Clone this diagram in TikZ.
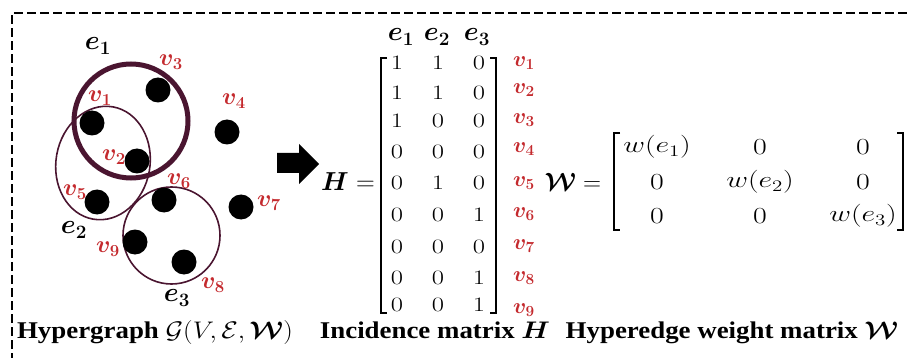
\RequirePackage{fix-cm}
\documentclass[tikz,border=0pt]{standalone}
\usepackage{amsmath,bm}
\usepackage{fontspec}
\setmainfont{Liberation Serif}
\definecolor{maroon}{HTML}{4A1530}
\definecolor{vred}{HTML}{C42A2E}
\newcommand{\capbox}[1]{\scalebox{1.12}[1]{#1}}
\newcommand{\wbox}[1]{\scalebox{1.3}[1]{#1}}
\begin{document}
\begin{tikzpicture}[x=1pt,y=-1pt,
  dot/.style={circle,fill=black,minimum size=25pt,inner sep=0pt},
  vlab/.style={text=vred,inner sep=0pt,font=\fontsize{24}{24}\selectfont},
  hvlab/.style={text=vred,inner sep=0pt,font=\fontsize{22}{22}\selectfont},
  elab/.style={text=black,inner sep=0pt,font=\fontsize{27}{27}\selectfont},
  hent/.style={inner sep=0pt,font=\fontsize{20.5}{20.5}\selectfont},
  went/.style={inner sep=0pt,font=\fontsize{23}{23}\selectfont},
  captxt/.style={inner sep=0pt,anchor=base,font=\fontsize{24}{24}\selectfont\bfseries},
  brk/.style={line width=1.4pt},
  hedge/.style={draw=maroon,line width=1.6pt}]
\useasboundingbox (0,0) rectangle (907,358);
% dashed border
\draw[line width=2.6pt,dash pattern=on 9pt off 4pt] (12,362) -- (12,13) -- (912,13);

% hyperedges
\draw[hedge,line width=5pt] (131,121) circle (57);
\draw[hedge] (103,163) ellipse[x radius=47,y radius=57,rotate=-10];
\draw[hedge] (171.5,235.5) circle (48.5);

% vertices
\node[dot] (d1) at (92,123) {};
\node[dot] (d2) at (137,161) {};
\node[dot] (d3) at (158,90) {};
\node[dot] (d4) at (227,132) {};
\node[dot] (d5) at (97,202) {};
\node[dot] (d6) at (164,200) {};
\node[dot] (d7) at (241,207) {};
\node[dot] (d8) at (184,262) {};
\node[dot] (d9) at (135,242) {};

\node[vlab] (l1) at (100,98) {$\bm{v}_{\bm 1}$};
\node[vlab] (l2) at (114,157) {$\bm{v}_{\bm 2}$};
\node[vlab] (l3) at (171,62) {$\bm{v}_{\bm 3}$};
\node[vlab] (l4) at (234,101) {$\bm{v}_{\bm 4}$};
\node[vlab] (l5) at (75,192) {$\bm{v}_{\bm 5}$};
\node[vlab] (l6) at (179,181) {$\bm{v}_{\bm 6}$};
\node[vlab] (l7) at (269,203) {$\bm{v}_{\bm 7}$};
\node[vlab] (l8) at (213,285) {$\bm{v}_{\bm 8}$};
\node[vlab] (l9) at (108,249) {$\bm{v}_{\bm 9}$};

\node[elab] (e1) at (98,46) {$\bm{e}_{\bm 1}$};
\node[elab] (e2) at (74,230) {$\bm{e}_{\bm 2}$};
\node[elab] (e3) at (177,298) {$\bm{e}_{\bm 3}$};

% arrow
\fill (277,153) -- (299,153) -- (299,144) -- (319,164) -- (299,184) -- (299,173) -- (277,173) -- cycle;

% H matrix
\node[inner sep=0pt,font=\fontsize{26}{26}\selectfont] (Heq) at (348,182) {$\bm{H}=$};
\foreach \c/\x in {1/401,2/437,3/477}
  \node[elab] (he\c) at (\x,37) {$\bm{e}_{\bm{\c}}$};
\foreach \r/\y/\a/\b/\cc in {1/63/1/1/0,2/93/1/1/0,3/121/1/0/0,4/152/0/0/0,5/183/0/1/0,6/215/0/0/1,7/247/0/0/0,8/278/0/0/1,9/305/0/0/1}{
  \node[hent] (h\r a) at (397,\y) {\wbox{$\a$}};
  \node[hent] (h\r b) at (438,\y) {\wbox{$\b$}};
  \node[hent] (h\r c) at (479,\y) {\wbox{$\cc$}};
}
\foreach \r/\y in {1/63,2/90,3/120,4/149,5/183,6/214,7/246,8/278,9/310}
  \node[hvlab] (hv\r) at (524,\y) {$\bm{v}_{\bm{\r}}$};
\draw[brk] (387,58) -- (381,58) -- (381,313) -- (387,313);
\draw[brk] (490,58) -- (496,58) -- (496,313) -- (490,313);

% W matrix
\node[inner sep=0pt,font=\fontsize{25}{25}\selectfont] (Weq) at (573,182) {$\bm{\mathcal{W}}=$};
\node[went] (w11) at (657,147) {\wbox{$w(e_1)$}};
\node[went] (w12) at (760,147) {\wbox{$0$}};
\node[went] (w13) at (863,147) {\wbox{$0$}};
\node[went] (w21) at (657,182) {\wbox{$0$}};
\node[went] (w22) at (760,182) {\wbox{$w(e_2)$}};
\node[went] (w23) at (863,182) {\wbox{$0$}};
\node[went] (w31) at (657,216) {\wbox{$0$}};
\node[went] (w32) at (760,216) {\wbox{$0$}};
\node[went] (w33) at (863,216) {\wbox{$w(e_3)$}};
\draw[brk] (620,133) -- (614,133) -- (614,230) -- (620,230);
\draw[brk] (897,133) -- (903,133) -- (903,230) -- (897,230);

% captions
\node[captxt] (c1) at (155,338) {\capbox{Hypergraph $\mathcal{G}(V,\mathcal{E},\bm{\mathcal{W}})$}};
\node[captxt] (c2) at (435,338) {\capbox{Incidence matrix $\bm{H}$}};
\node[captxt] (c3) at (732,338) {\capbox{Hyperedge weight matrix $\bm{\mathcal{W}}$}};
\end{tikzpicture}
\end{document}
